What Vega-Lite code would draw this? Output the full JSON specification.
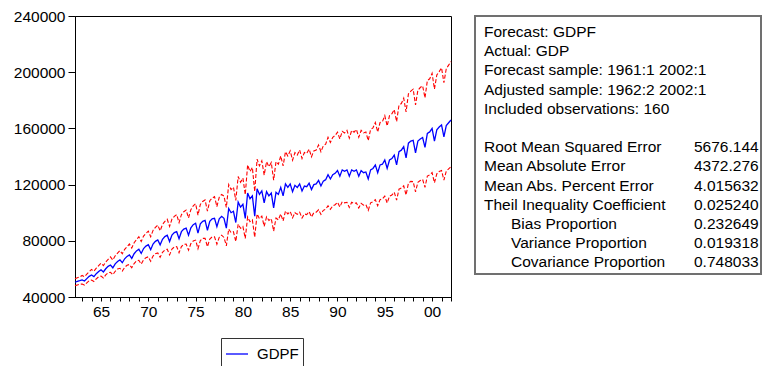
{
  "$schema": "https://vega.github.io/schema/vega-lite/v6.json",
  "background": "white",
  "padding": {"left": 12, "top": 8, "right": 4, "bottom": 2},
  "bounds": "flush",
  "spacing": 24,
  "resolve": {"legend": {"color": "independent"}},
  "config": {
    "font": "Liberation Sans",
    "axis": {"grid": false, "domainColor": "#000", "tickColor": "#000", "labelColor": "#000", "labelFont": "Liberation Sans", "labelFontSize": 15.5, "title": null}
  },
  "datasets": {
    "gdp": [
      {"t":1962.25,"GDPF":50500,"upper":53000,"lower":48100},
      {"t":1962.5,"GDPF":51100,"upper":53700,"lower":48600},
      {"t":1962.75,"GDPF":51600,"upper":54200,"lower":49100},
      {"t":1963,"GDPF":52200,"upper":55300,"lower":49200},
      {"t":1963.25,"GDPF":51400,"upper":54500,"lower":48500},
      {"t":1963.5,"GDPF":53100,"upper":56300,"lower":50100},
      {"t":1963.75,"GDPF":54700,"upper":58000,"lower":51600},
      {"t":1964,"GDPF":55700,"upper":59600,"lower":52100},
      {"t":1964.25,"GDPF":54500,"upper":58300,"lower":51000},
      {"t":1964.5,"GDPF":56600,"upper":60600,"lower":52900},
      {"t":1964.75,"GDPF":58200,"upper":62300,"lower":54400},
      {"t":1965,"GDPF":59300,"upper":64000,"lower":54900},
      {"t":1965.25,"GDPF":57800,"upper":62400,"lower":53500},
      {"t":1965.5,"GDPF":60100,"upper":64900,"lower":55700},
      {"t":1965.75,"GDPF":61800,"upper":66700,"lower":57200},
      {"t":1966,"GDPF":62800,"upper":68500,"lower":57600},
      {"t":1966.25,"GDPF":60800,"upper":66300,"lower":55800},
      {"t":1966.5,"GDPF":63600,"upper":69300,"lower":58300},
      {"t":1966.75,"GDPF":65300,"upper":71200,"lower":59900},
      {"t":1967,"GDPF":66400,"upper":73000,"lower":60400},
      {"t":1967.25,"GDPF":64400,"upper":70800,"lower":58500},
      {"t":1967.5,"GDPF":67200,"upper":73900,"lower":61100},
      {"t":1967.75,"GDPF":68900,"upper":75800,"lower":62600},
      {"t":1968,"GDPF":70000,"upper":77700,"lower":63100},
      {"t":1968.25,"GDPF":67500,"upper":74900,"lower":60800},
      {"t":1968.5,"GDPF":70800,"upper":78600,"lower":63800},
      {"t":1968.75,"GDPF":72800,"upper":80800,"lower":65600},
      {"t":1969,"GDPF":74000,"upper":82900,"lower":66100},
      {"t":1969.25,"GDPF":71000,"upper":79500,"lower":63400},
      {"t":1969.5,"GDPF":74500,"upper":83400,"lower":66500},
      {"t":1969.75,"GDPF":76200,"upper":85300,"lower":68000},
      {"t":1970,"GDPF":77200,"upper":86900,"lower":68600},
      {"t":1970.25,"GDPF":73700,"upper":82900,"lower":65500},
      {"t":1970.5,"GDPF":77700,"upper":87400,"lower":69100},
      {"t":1970.75,"GDPF":79600,"upper":89600,"lower":70800},
      {"t":1971,"GDPF":80600,"upper":91100,"lower":71300},
      {"t":1971.25,"GDPF":77100,"upper":87100,"lower":68200},
      {"t":1971.5,"GDPF":81100,"upper":91600,"lower":71800},
      {"t":1971.75,"GDPF":83000,"upper":93800,"lower":73500},
      {"t":1972,"GDPF":84000,"upper":95300,"lower":74000},
      {"t":1972.25,"GDPF":79500,"upper":90200,"lower":70000},
      {"t":1972.5,"GDPF":84100,"upper":95500,"lower":74100},
      {"t":1972.75,"GDPF":85800,"upper":97400,"lower":75600},
      {"t":1973,"GDPF":86500,"upper":98600,"lower":75900},
      {"t":1973.25,"GDPF":81500,"upper":92900,"lower":71500},
      {"t":1973.5,"GDPF":86500,"upper":98600,"lower":75900},
      {"t":1973.75,"GDPF":88300,"upper":100700,"lower":77400},
      {"t":1974,"GDPF":89000,"upper":101900,"lower":77700},
      {"t":1974.25,"GDPF":84000,"upper":96200,"lower":73300},
      {"t":1974.5,"GDPF":89300,"upper":102200,"lower":78000},
      {"t":1974.75,"GDPF":91500,"upper":104800,"lower":79900},
      {"t":1975,"GDPF":92500,"upper":106400,"lower":80500},
      {"t":1975.25,"GDPF":85500,"upper":98300,"lower":74400},
      {"t":1975.5,"GDPF":92100,"upper":105900,"lower":80100},
      {"t":1975.75,"GDPF":93900,"upper":108000,"lower":81700},
      {"t":1976,"GDPF":94500,"upper":109100,"lower":81800},
      {"t":1976.25,"GDPF":87500,"upper":101100,"lower":75800},
      {"t":1976.5,"GDPF":93900,"upper":108500,"lower":81300},
      {"t":1976.75,"GDPF":95600,"upper":110400,"lower":82800},
      {"t":1977,"GDPF":96000,"upper":111400,"lower":82800},
      {"t":1977.25,"GDPF":90000,"upper":104400,"lower":77600},
      {"t":1977.5,"GDPF":95700,"upper":111000,"lower":82500},
      {"t":1977.75,"GDPF":97400,"upper":113000,"lower":84000},
      {"t":1978,"GDPF":96000,"upper":111800,"lower":82400},
      {"t":1978.25,"GDPF":89000,"upper":103700,"lower":76400},
      {"t":1978.5,"GDPF":103000,"upper":120000,"lower":88400},
      {"t":1978.75,"GDPF":100000,"upper":116500,"lower":85800},
      {"t":1979,"GDPF":101000,"upper":118200,"lower":86400},
      {"t":1979.25,"GDPF":93000,"upper":108800,"lower":79500},
      {"t":1979.5,"GDPF":107500,"upper":125800,"lower":91900},
      {"t":1979.75,"GDPF":104000,"upper":121700,"lower":88900},
      {"t":1980,"GDPF":106000,"upper":124600,"lower":90200},
      {"t":1980.25,"GDPF":96000,"upper":112800,"lower":81700},
      {"t":1980.5,"GDPF":114000,"upper":134000,"lower":97000},
      {"t":1980.75,"GDPF":110000,"upper":129300,"lower":93600},
      {"t":1981,"GDPF":112000,"upper":132200,"lower":94900},
      {"t":1981.25,"GDPF":97500,"upper":115100,"lower":82600},
      {"t":1981.5,"GDPF":117000,"upper":138100,"lower":99100},
      {"t":1981.75,"GDPF":113000,"upper":133300,"lower":95700},
      {"t":1982,"GDPF":115500,"upper":136900,"lower":97500},
      {"t":1982.25,"GDPF":107000,"upper":126800,"lower":90300},
      {"t":1982.5,"GDPF":115000,"upper":136300,"lower":97100},
      {"t":1982.75,"GDPF":112000,"upper":132700,"lower":94500},
      {"t":1983,"GDPF":114000,"upper":135700,"lower":95800},
      {"t":1983.25,"GDPF":103500,"upper":123200,"lower":86900},
      {"t":1983.5,"GDPF":114500,"upper":136300,"lower":96200},
      {"t":1983.75,"GDPF":113000,"upper":134500,"lower":94900},
      {"t":1984,"GDPF":118000,"upper":140400,"lower":99100},
      {"t":1984.25,"GDPF":112000,"upper":133300,"lower":94100},
      {"t":1984.5,"GDPF":120500,"upper":143400,"lower":101200},
      {"t":1984.75,"GDPF":118000,"upper":140400,"lower":99100},
      {"t":1985,"GDPF":120500,"upper":144000,"lower":100900},
      {"t":1985.25,"GDPF":115000,"upper":137400,"lower":96300},
      {"t":1985.5,"GDPF":119500,"upper":142800,"lower":100000},
      {"t":1985.75,"GDPF":118000,"upper":141000,"lower":98800},
      {"t":1986,"GDPF":120500,"upper":144600,"lower":100400},
      {"t":1986.25,"GDPF":115500,"upper":138600,"lower":96200},
      {"t":1986.5,"GDPF":119000,"upper":142800,"lower":99100},
      {"t":1986.75,"GDPF":118500,"upper":142200,"lower":98700},
      {"t":1987,"GDPF":121000,"upper":145200,"lower":100800},
      {"t":1987.25,"GDPF":116500,"upper":139800,"lower":97000},
      {"t":1987.5,"GDPF":120000,"upper":144000,"lower":100000},
      {"t":1987.75,"GDPF":120500,"upper":144600,"lower":100400},
      {"t":1988,"GDPF":123000,"upper":148200,"lower":102100},
      {"t":1988.25,"GDPF":119000,"upper":143400,"lower":98800},
      {"t":1988.5,"GDPF":122500,"upper":147600,"lower":101700},
      {"t":1988.75,"GDPF":123500,"upper":148800,"lower":102500},
      {"t":1989,"GDPF":127000,"upper":153700,"lower":104900},
      {"t":1989.25,"GDPF":124000,"upper":150000,"lower":102400},
      {"t":1989.5,"GDPF":127000,"upper":153700,"lower":104900},
      {"t":1989.75,"GDPF":128000,"upper":154900,"lower":105700},
      {"t":1990,"GDPF":130000,"upper":157300,"lower":107400},
      {"t":1990.25,"GDPF":126000,"upper":152500,"lower":104100},
      {"t":1990.5,"GDPF":130500,"upper":157900,"lower":107800},
      {"t":1990.75,"GDPF":129500,"upper":156700,"lower":107000},
      {"t":1991,"GDPF":130500,"upper":158600,"lower":107400},
      {"t":1991.25,"GDPF":126000,"upper":153100,"lower":103700},
      {"t":1991.5,"GDPF":130500,"upper":158600,"lower":107400},
      {"t":1991.75,"GDPF":129500,"upper":157300,"lower":106600},
      {"t":1992,"GDPF":130500,"upper":159200,"lower":107000},
      {"t":1992.25,"GDPF":126000,"upper":153700,"lower":103300},
      {"t":1992.5,"GDPF":130000,"upper":158600,"lower":106600},
      {"t":1992.75,"GDPF":128500,"upper":156800,"lower":105400},
      {"t":1993,"GDPF":129000,"upper":157400,"lower":105800},
      {"t":1993.25,"GDPF":124000,"upper":151300,"lower":101700},
      {"t":1993.5,"GDPF":130500,"upper":159200,"lower":107000},
      {"t":1993.75,"GDPF":131500,"upper":160400,"lower":107800},
      {"t":1994,"GDPF":134000,"upper":164200,"lower":109300},
      {"t":1994.25,"GDPF":128500,"upper":157400,"lower":104900},
      {"t":1994.5,"GDPF":134000,"upper":164200,"lower":109300},
      {"t":1994.75,"GDPF":134500,"upper":164800,"lower":109800},
      {"t":1995,"GDPF":137500,"upper":169100,"lower":111800},
      {"t":1995.25,"GDPF":131500,"upper":161700,"lower":106900},
      {"t":1995.5,"GDPF":137500,"upper":169100,"lower":111800},
      {"t":1995.75,"GDPF":138500,"upper":170400,"lower":112600},
      {"t":1996,"GDPF":141000,"upper":173400,"lower":114600},
      {"t":1996.25,"GDPF":134000,"upper":164800,"lower":108900},
      {"t":1996.5,"GDPF":143500,"upper":176500,"lower":116700},
      {"t":1996.75,"GDPF":144500,"upper":177700,"lower":117500},
      {"t":1997,"GDPF":147000,"upper":181500,"lower":119100},
      {"t":1997.25,"GDPF":139000,"upper":171700,"lower":112600},
      {"t":1997.5,"GDPF":149500,"upper":184600,"lower":121100},
      {"t":1997.75,"GDPF":151000,"upper":186500,"lower":122300},
      {"t":1998,"GDPF":151500,"upper":187900,"lower":122100},
      {"t":1998.25,"GDPF":142500,"upper":176700,"lower":114900},
      {"t":1998.5,"GDPF":151000,"upper":187200,"lower":121700},
      {"t":1998.75,"GDPF":152500,"upper":189100,"lower":122900},
      {"t":1999,"GDPF":153500,"upper":190300,"lower":123700},
      {"t":1999.25,"GDPF":146500,"upper":181700,"lower":118100},
      {"t":1999.5,"GDPF":156500,"upper":194100,"lower":126100},
      {"t":1999.75,"GDPF":157500,"upper":195300,"lower":126900},
      {"t":2000,"GDPF":160000,"upper":199200,"lower":128500},
      {"t":2000.25,"GDPF":151000,"upper":188000,"lower":121300},
      {"t":2000.5,"GDPF":159000,"upper":198000,"lower":127700},
      {"t":2000.75,"GDPF":161000,"upper":200400,"lower":129300},
      {"t":2001,"GDPF":162500,"upper":203100,"lower":130000},
      {"t":2001.25,"GDPF":154000,"upper":192500,"lower":123200},
      {"t":2001.5,"GDPF":162000,"upper":202500,"lower":129600},
      {"t":2001.75,"GDPF":164000,"upper":205000,"lower":131200},
      {"t":2002,"GDPF":166000,"upper":207500,"lower":132800}
    ],
    "stats": [
      {"row":1,"col":"label","sub":false,"text":"Forecast: GDPF"},
      {"row":2,"col":"label","sub":false,"text":"Actual: GDP"},
      {"row":3,"col":"label","sub":false,"text":"Forecast sample: 1961:1 2002:1"},
      {"row":4,"col":"label","sub":false,"text":"Adjusted sample: 1962:2 2002:1"},
      {"row":5,"col":"label","sub":false,"text":"Included observations: 160"},
      {"row":7,"col":"label","sub":false,"text":"Root Mean Squared Error"},
      {"row":8,"col":"label","sub":false,"text":"Mean Absolute Error"},
      {"row":9,"col":"label","sub":false,"text":"Mean Abs. Percent Error"},
      {"row":10,"col":"label","sub":false,"text":"Theil Inequality Coefficient"},
      {"row":11,"col":"label","sub":true,"text":"Bias Proportion"},
      {"row":12,"col":"label","sub":true,"text":"Variance Proportion"},
      {"row":13,"col":"label","sub":true,"text":"Covariance Proportion"},
      {"row":7,"col":"value","sub":false,"text":"5676.144"},
      {"row":8,"col":"value","sub":false,"text":"4372.276"},
      {"row":9,"col":"value","sub":false,"text":"4.015632"},
      {"row":10,"col":"value","sub":false,"text":"0.025240"},
      {"row":11,"col":"value","sub":false,"text":"0.232649"},
      {"row":12,"col":"value","sub":false,"text":"0.019318"},
      {"row":13,"col":"value","sub":false,"text":"0.748033"}
    ]
  },
  "hconcat": [
    {
      "width": 376,
      "height": 281,
      "view": {"stroke": "#000", "strokeWidth": 1},
      "data": {"name": "gdp"},
      "encoding": {
        "x": {
          "field": "t", "type": "quantitative",
          "scale": {"domain": [1962.25, 2002], "nice": false, "zero": false},
          "axis": {
            "values": [1963,1964,1965,1966,1967,1968,1969,1970,1971,1972,1973,1974,1975,1976,1977,1978,1979,1980,1981,1982,1983,1984,1985,1986,1987,1988,1989,1990,1991,1992,1993,1994,1995,1996,1997,1998,1999,2000,2001,2002],
            "labelExpr": "datum.value % 5 == 0 ? ((datum.value % 100 < 10 ? '0' : '') + (datum.value % 100)) : ''",
            "tickSize": 4, "labelPadding": 3, "labelOverlap": false, "labelFlush": false, "labelBound": false
          }
        }
      },
      "layer": [
        {
          "mark": {"type": "line", "color": "#FF0000", "strokeWidth": 1.1, "strokeDash": [4, 2]},
          "encoding": {
            "y": {
              "field": "upper", "type": "quantitative",
              "scale": {"domain": [40000, 240000], "nice": false, "zero": false},
              "axis": {"values": [40000, 80000, 120000, 160000, 200000, 240000], "format": "d", "tickSize": 7, "labelPadding": 3}
            }
          }
        },
        {
          "mark": {"type": "line", "color": "#FF0000", "strokeWidth": 1.1, "strokeDash": [4, 2]},
          "encoding": {"y": {"field": "lower", "type": "quantitative"}}
        },
        {
          "mark": {"type": "line", "strokeWidth": 1.3},
          "encoding": {
            "y": {"field": "GDPF", "type": "quantitative"},
            "color": {
              "datum": "GDPF", "type": "nominal",
              "scale": {"range": ["#0000FF"]},
              "legend": {
                "orient": "none", "legendX": 146, "legendY": 322, "title": null,
                "strokeColor": "#333", "fillColor": "white", "padding": 4,
                "symbolType": "stroke", "symbolSize": 484, "symbolStrokeWidth": 1.3,
                "labelFont": "Liberation Sans", "labelFontSize": 15, "labelColor": "#000", "labelOffset": 8
              }
            }
          }
        }
      ]
    },
    {
      "width": 286,
      "height": 258,
      "view": {"stroke": "#707070", "strokeWidth": 2},
      "data": {"name": "stats"},
      "encoding": {
        "y": {"field": "row", "type": "quantitative", "scale": {"domain": [0.17, 13.6], "reverse": true, "nice": false, "zero": false}, "axis": null},
        "x": {"field": "col", "type": "nominal", "scale": {"type": "point", "domain": ["label", "value"], "range": [9, 219], "padding": 0}, "axis": null},
        "text": {"field": "text"}
      },
      "layer": [
        {
          "transform": [{"filter": "!datum.sub"}],
          "mark": {"type": "text", "align": "left", "baseline": "middle", "fontSize": 15.5, "font": "Liberation Sans", "color": "#000"}
        },
        {
          "transform": [{"filter": "datum.sub"}],
          "mark": {"type": "text", "align": "left", "baseline": "middle", "dx": 27, "fontSize": 15.5, "font": "Liberation Sans", "color": "#000"}
        }
      ]
    }
  ]
}
